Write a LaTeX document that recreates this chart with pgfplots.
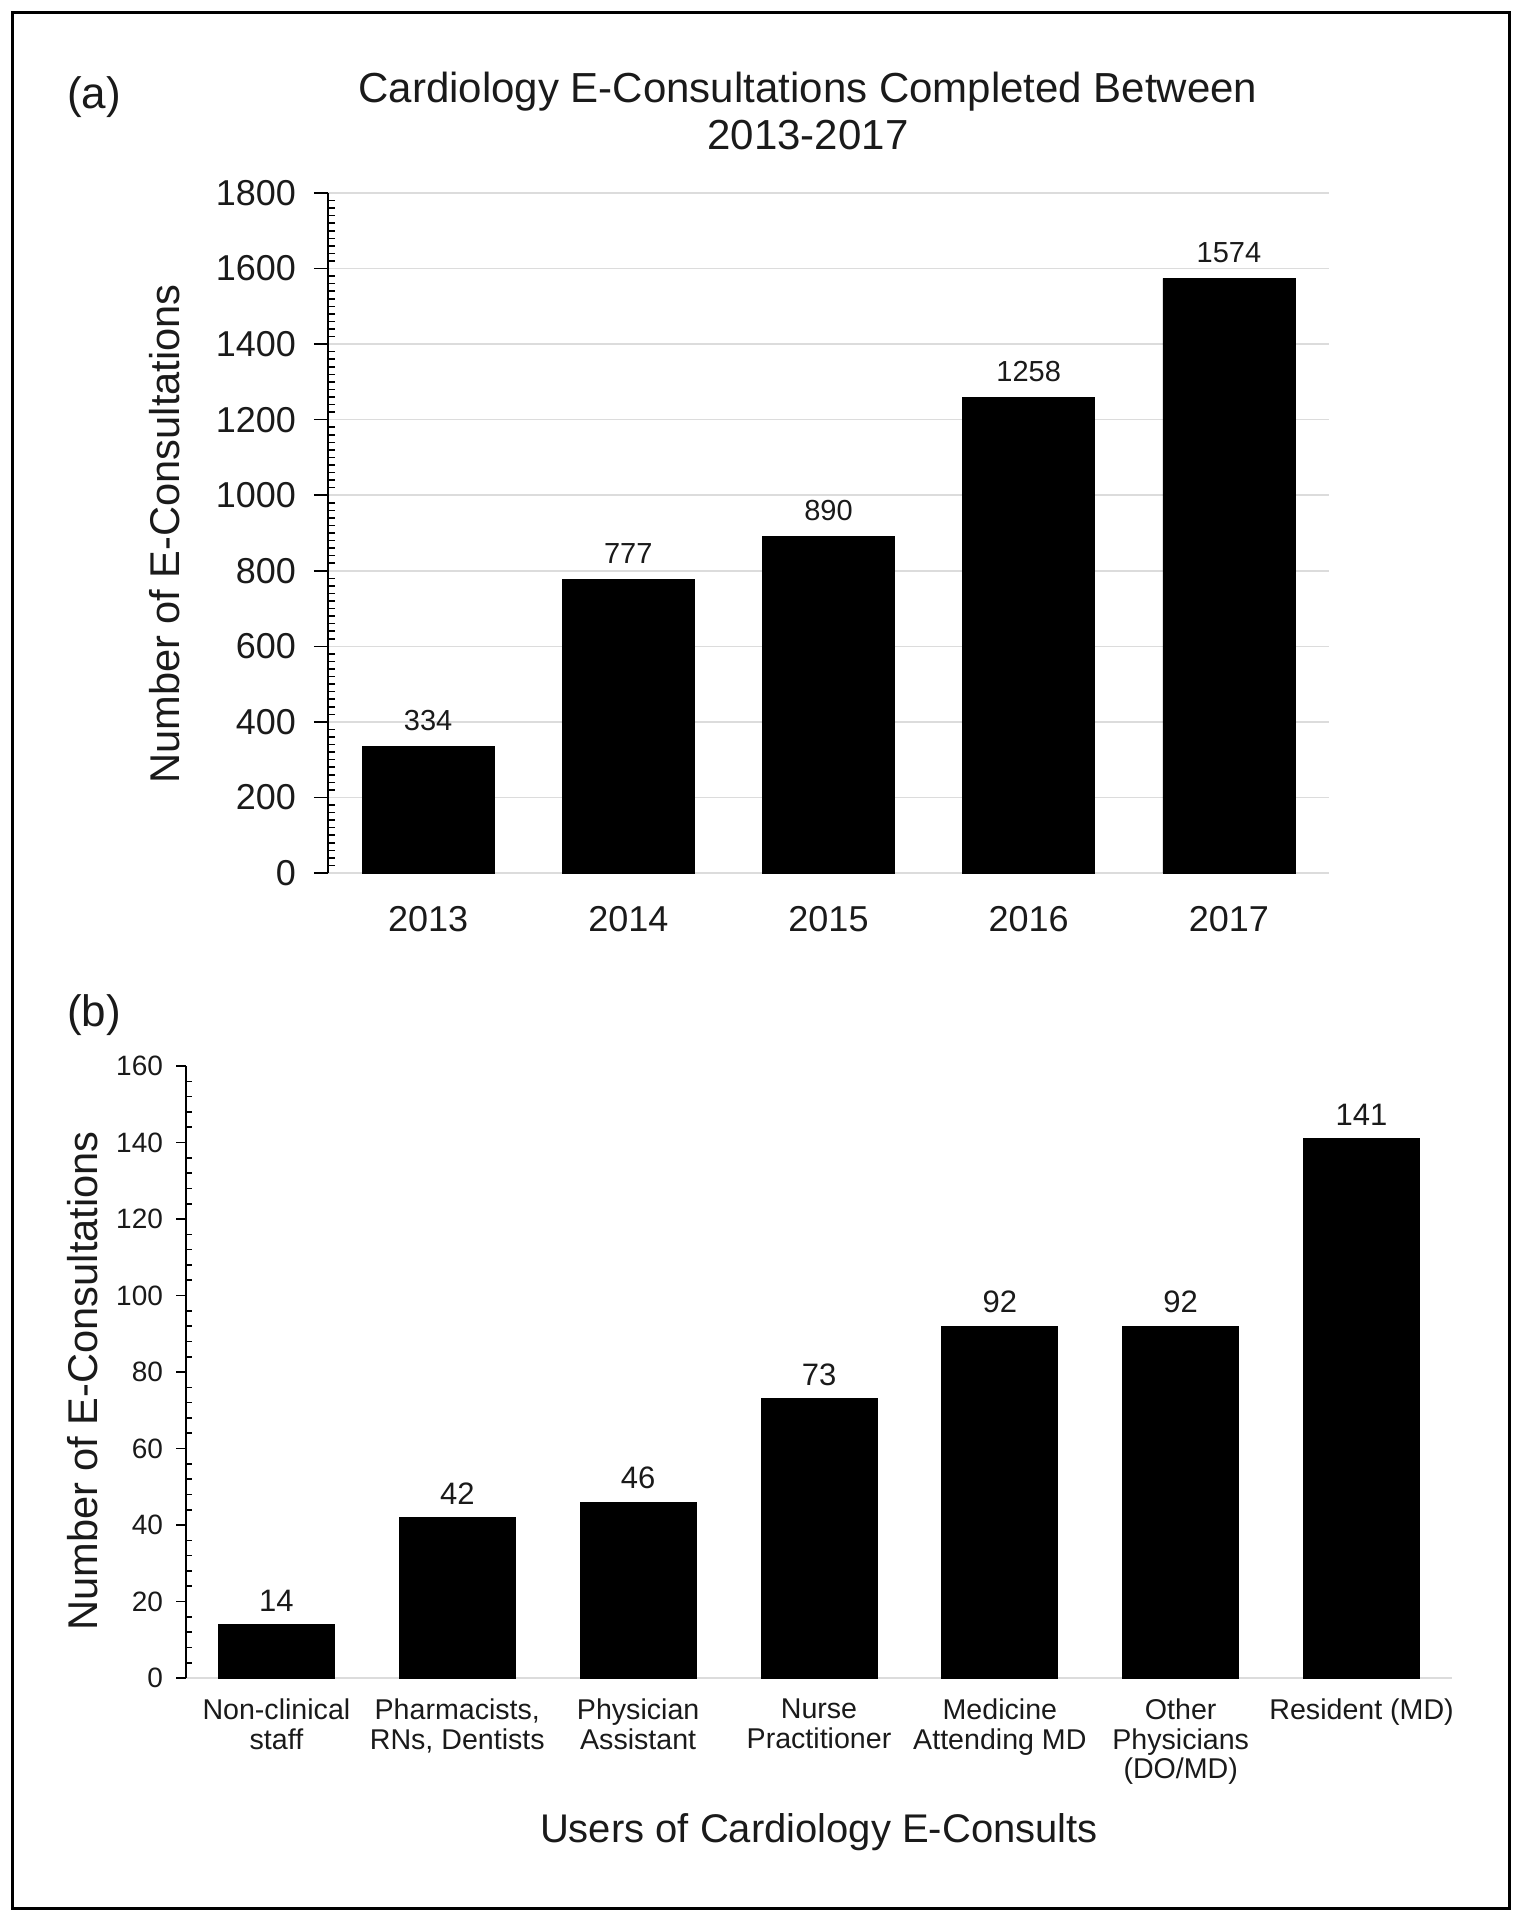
\documentclass[border=0pt]{standalone}
\usepackage{fontspec}
\setmainfont{Liberation Sans}
\usepackage{pgfplots}
\pgfplotsset{compat=1.18}
\definecolor{gridgray}{HTML}{DCDCDC}
\definecolor{txt}{HTML}{1A1A1A}

\begin{document}
\begin{tikzpicture}
\path[use as bounding box] (0,0) rectangle (760bp,-960bp);
\draw[line width=1.5bp] (6bp,-6bp) rectangle (754.5bp,-954bp);

% panel (a)
\begin{axis}[
  at={(164bp,-436.5bp)}, anchor=south west,
  scale only axis, width=500.5bp, height=340bp,
  xmin=-0.5, xmax=4.5, ymin=0, ymax=1800,
  ybar, bar width=66bp, bar shift=0pt,
  xtick={0,1,2,3,4}, xticklabels={2013,2014,2015,2016,2017},
  ytick distance=200, minor y tick num=9,
  axis lines*=left,
  x axis line style={draw=gridgray, line width=0.75bp},
  y axis line style={draw=black, line width=1bp},
  ymajorgrids, grid style={gridgray, line width=0.75bp},
  xtick style={draw=none},
  tick align=outside, major tick length=7bp, minor tick length=3.5bp,
  minor y tick style={xshift=3.5bp},
  tick style={black, line width=0.8bp},
  yticklabel style={font=\fontsize{18bp}{18bp}\selectfont, color=txt, xshift=-5.5bp},
  xticklabel style={font=\fontsize{18bp}{18bp}\selectfont, color=txt, yshift=-6bp},
  /pgf/number format/.cd, 1000 sep={}, assume math mode=true,
  /pgfplots/.cd,
  nodes near coords,
  every node near coord/.append style={font=\fontsize{14.5bp}{14.5bp}\selectfont, color=txt, yshift=4.5bp},
]
\addplot[fill=black, draw=black] coordinates {(0,334) (1,777) (2,890) (3,1258) (4,1574)};
\end{axis}

% panel (b)
\begin{axis}[
  at={(93bp,-839bp)}, anchor=south west,
  scale only axis, width=633bp, height=306bp,
  xmin=-0.5, xmax=6.5, ymin=0, ymax=160,
  ybar, bar width=58bp, bar shift=0pt,
  xtick={0,1,2,3,4,5,6},
  xticklabels={{Non-clinical\\staff},{Pharmacists,\\RNs, Dentists},{Physician\\Assistant},{Nurse\\Practitioner},{Medicine\\Attending MD},{Other\\Physicians\\(DO/MD)},{Resident (MD)}},
  ytick distance=20, minor y tick num=4,
  axis lines*=left,
  x axis line style={draw=gridgray, line width=0.75bp},
  y axis line style={draw=black, line width=1bp},
  xtick style={draw=none},
  tick align=outside, major tick length=5bp, minor tick length=3bp,
  minor y tick style={xshift=3bp},
  tick style={black, line width=0.8bp},
  yticklabel style={font=\fontsize{14bp}{14bp}\selectfont, color=txt, xshift=-3bp},
  xticklabel style={font=\fontsize{14.3bp}{14.7bp}\selectfont, color=txt, align=center, yshift=-2bp},
  /pgf/number format/.cd, 1000 sep={}, assume math mode=true,
  /pgfplots/.cd,
  nodes near coords,
  every node near coord/.append style={font=\fontsize{15.5bp}{15.5bp}\selectfont, color=txt, yshift=3bp},
]
\addplot[fill=black, draw=black] coordinates {(0,14) (1,42) (2,46) (3,73) (4,92) (5,92) (6,141)};
\end{axis}

% texts
\node[font=\fontsize{21bp}{21bp}\selectfont, color=txt] at (404bp,-46bp) {Cardiology E-Consultations Completed Between};
\node[font=\fontsize{21bp}{21bp}\selectfont, color=txt] at (404bp,-67.5bp) {2013-2017};
\node[font=\fontsize{22bp}{22bp}\selectfont, color=txt] at (47bp,-48.5bp) {(a)};
\node[font=\fontsize{22bp}{22bp}\selectfont, color=txt] at (47bp,-507.5bp) {(b)};
\node[font=\fontsize{20.8bp}{20.8bp}\selectfont, color=txt, rotate=90] at (82.5bp,-267bp) {Number of E-Consultations};
\node[font=\fontsize{20.8bp}{20.8bp}\selectfont, color=txt, rotate=90] at (41.5bp,-690.5bp) {Number of E-Consultations};
\node[font=\fontsize{20bp}{20bp}\selectfont, color=txt] at (409.5bp,-916bp) {Users of Cardiology E-Consults};
\end{tikzpicture}
\end{document}
